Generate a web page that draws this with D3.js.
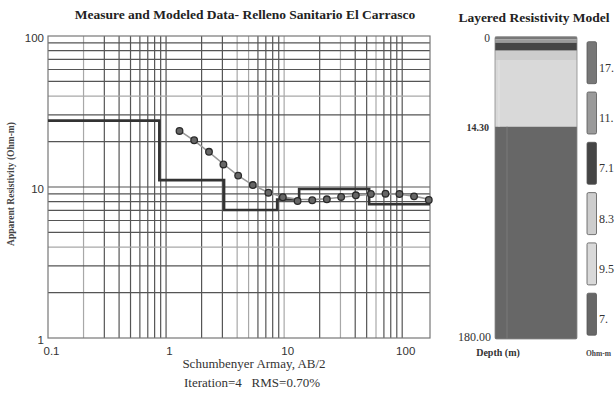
<!DOCTYPE html>
<html><head><meta charset="utf-8">
<script src="https://cdn.jsdelivr.net/npm/d3@7"></script>
<style>body{margin:0;background:#fff;overflow:hidden}</style>
</head><body><svg id="c" width="616" height="393"></svg>
<script>
// ---- data ----
const abHalf = [1.3,1.73,2.31,3.06,4.08,5.43,7.36,9.75,13,17.3,23,30.4,40.5,54.3,72.2,94.8,126,168];
const measured = [23.5,20.4,17.1,14.1,11.9,10.3,9.17,8.55,8.08,8.17,8.29,8.59,8.81,8.99,9.03,8.99,8.67,8.2];
const calculated = [23.6,20.3,17.0,14.2,11.9,10.3,9.2,8.6,8.3,8.25,8.35,8.55,8.75,8.95,9.0,8.95,8.7,8.3];
const layerRho = [27.5,11.1,7.04,8.26,9.70,7.68];
const layerDepth = [0.877,3.10,8.73,13.4,52.5];
const xTicks = [0.1,1,10,100];
const yTicks = [1,10,100];
const modelDepths = [0,0.44,0.95,2.22,3.70,14.30,180];
const depthLabels = [0,14.30,180];
const legendLabels = ["17.","11.","7.1","8.3","9.5","7."];
const layerColors = ["#777","#9a9a9a","#454545","#cdcdcd","#d9d9d9","#676767"];

const svg = d3.select("#c");
const serif = "'Liberation Serif','DejaVu Serif',serif";
const sans = "'Liberation Sans',Arial,sans-serif";

// ---- left chart ----
const x = d3.scaleLog().domain([0.1,172]).range([48,430]);
const y = d3.scaleLog().domain([1,100]).range([338,36]);

const gridX = [], gridY = [];
[0.1,1,10,100].forEach(d=>{for(let k=1;k<=9;k++){const v=d*k; if(v>0.1&&v<172) gridX.push(v);}});
[1,10].forEach(d=>{for(let k=1;k<=9;k++){const v=d*k; if(v>1&&v<100) gridY.push(v);}});
const lightX = new Set([0.2,4,5,10,30,60]);
const lightY = new Set([40,4]);

const grid = svg.append("g");
grid.selectAll("line.gx").data(gridX).join("line")
  .attr("x1",d=>x(d)).attr("x2",d=>x(d)).attr("y1",y(100)).attr("y2",y(1))
  .attr("stroke",d=>lightX.has(+d.toPrecision(3))?"#a8a8a8":"#555").attr("stroke-width",1.2);
grid.selectAll("line.gy").data(gridY).join("line")
  .attr("y1",d=>y(d)).attr("y2",d=>y(d)).attr("x1",x(0.1)).attr("x2",x(172))
  .attr("stroke",d=>lightY.has(+d.toPrecision(3))?"#a8a8a8":"#555").attr("stroke-width",1.2);
grid.append("rect").attr("x",x(0.1)).attr("y",y(100)).attr("width",x(172)-x(0.1)).attr("height",y(1)-y(100))
  .attr("fill","none").attr("stroke","#777").attr("stroke-width",1.2);

// axes
const xAxis = svg.append("g").attr("transform",`translate(3,${y(1)})`)
  .call(d3.axisBottom(x).tickValues(xTicks).tickFormat(d3.format("~g")).tickSize(0).tickPadding(9));
const yAxis = svg.append("g").attr("transform",`translate(${x(0.1)},2)`)
  .call(d3.axisLeft(y).tickValues(yTicks).tickFormat(d3.format("~g")).tickSize(0).tickPadding(4));
[xAxis,yAxis].forEach(a=>{a.select(".domain").remove();
  a.selectAll("text").attr("font-family",sans).attr("font-size",11.5).attr("fill","#333");});

// model step line
const stepPts = [{a:0.1,r:layerRho[0]}];
layerDepth.forEach((d,i)=>stepPts.push({a:d,r:layerRho[i+1]}));
stepPts.push({a:172,r:layerRho[layerRho.length-1]});
svg.append("path").datum(stepPts)
  .attr("d",d3.line().x(d=>x(d.a)).y(d=>y(d.r)).curve(d3.curveStepAfter))
  .attr("fill","none").attr("stroke","#333").attr("stroke-width",2.6);

// calculated curve
svg.append("path").datum(abHalf.map((a,i)=>({a,r:calculated[i]})))
  .attr("d",d3.line().x(d=>x(d.a)).y(d=>y(d.r)))
  .attr("fill","none").attr("stroke","#999").attr("stroke-width",1.6);

// measured points
svg.append("g").selectAll("circle").data(abHalf.map((a,i)=>({a,r:measured[i]}))).join("circle")
  .attr("cx",d=>x(d.a)).attr("cy",d=>y(d.r)).attr("r",3.3)
  .attr("fill","#666").attr("stroke","#2a2a2a").attr("stroke-width",1.3);

// titles
svg.append("text").attr("x",245).attr("y",19).attr("text-anchor","middle")
  .attr("font-family",serif).attr("font-weight","bold").attr("font-size",13.5).attr("fill","#222")
  .text("Measure and Modeled Data- Relleno Sanitario El Carrasco");
svg.append("text").attr("transform","translate(14,184) rotate(-90)").attr("text-anchor","middle")
  .attr("font-family",serif).attr("font-weight","bold").attr("font-size",9.5).attr("fill","#444")
  .text("Apparent Resistivity (Ohm-m)");
svg.append("text").attr("x",254).attr("y",368).attr("text-anchor","middle")
  .attr("font-family",serif).attr("font-size",13).attr("fill","#333").text("Schumbenyer Armay, AB/2");
svg.append("text").attr("x",252).attr("y",387).attr("text-anchor","middle").attr("xml:space","preserve")
  .attr("font-family",serif).attr("font-size",13).attr("fill","#333").text("Iteration=4   RMS=0.70%");

// ---- right: layered model ----
const dy = d3.scaleLinear().domain([0,14.30,180]).range([36.7,126.7,339]);
const colX0 = 495, colX1 = 577;
const layers = modelDepths.slice(0,-1).map((d,i)=>({top:d,bot:modelDepths[i+1],c:layerColors[i]}));
svg.append("g").selectAll("rect").data(layers).join("rect")
  .attr("x",colX0).attr("width",colX1-colX0)
  .attr("y",d=>dy(d.top)).attr("height",d=>dy(d.bot)-dy(d.top)).attr("fill",d=>d.c);
svg.append("rect").attr("x",colX0).attr("y",dy(0)).attr("width",colX1-colX0).attr("height",dy(180)-dy(0))
  .attr("fill","none").attr("stroke","#888").attr("stroke-width",0.8).attr("rx",1.5);
svg.append("line").attr("x1",507).attr("x2",507).attr("y1",dy(14.3)).attr("y2",dy(180))
  .attr("stroke","#7a7a7a").attr("stroke-width",1);
svg.append("line").attr("x1",499).attr("x2",499).attr("y1",dy(3.7)).attr("y2",dy(14.3))
  .attr("stroke","#e4e4e4").attr("stroke-width",1);

svg.append("g").selectAll("text").data(depthLabels).join("text")
  .attr("x",d=>d===0?490:d===180?491:489).attr("y",d=>dy(d)+(d===0?5:d===180?2:4)).attr("text-anchor","end")
  .attr("font-family",serif).attr("font-size",d=>d===180?12:d===0?11.5:10).attr("font-weight",d=>d===14.3?"bold":"normal").attr("fill","#333")
  .text(d=>d===0?"0":d.toFixed(2));

svg.append("text").attr("x",534).attr("y",22).attr("text-anchor","middle")
  .attr("font-family",serif).attr("font-weight","bold").attr("font-size",13.5).attr("fill","#222")
  .text("Layered Resistivity Model");
svg.append("text").attr("x",498).attr("y",356).attr("text-anchor","middle")
  .attr("font-family",serif).attr("font-weight","bold").attr("font-size",10).attr("fill","#333").text("Depth (m)");
svg.append("text").attr("x",586).attr("y",356)
  .attr("font-family",serif).attr("font-weight","bold").attr("font-size",7.5).attr("fill","#444").text("Ohm-m");

// legend
const lg = svg.append("g").selectAll("g").data(legendLabels).join("g")
  .attr("transform",(d,i)=>`translate(587,${41.7+i*50.3})`);
lg.append("rect").attr("width",9.5).attr("height",42).attr("rx",1.5)
  .attr("fill",(d,i)=>layerColors[i]).attr("stroke","#555").attr("stroke-width",0.8);
lg.append("text").attr("x",12).attr("y",30).attr("font-family",serif).attr("font-size",12).attr("fill","#333")
  .text(d=>d);
</script></body></html>
